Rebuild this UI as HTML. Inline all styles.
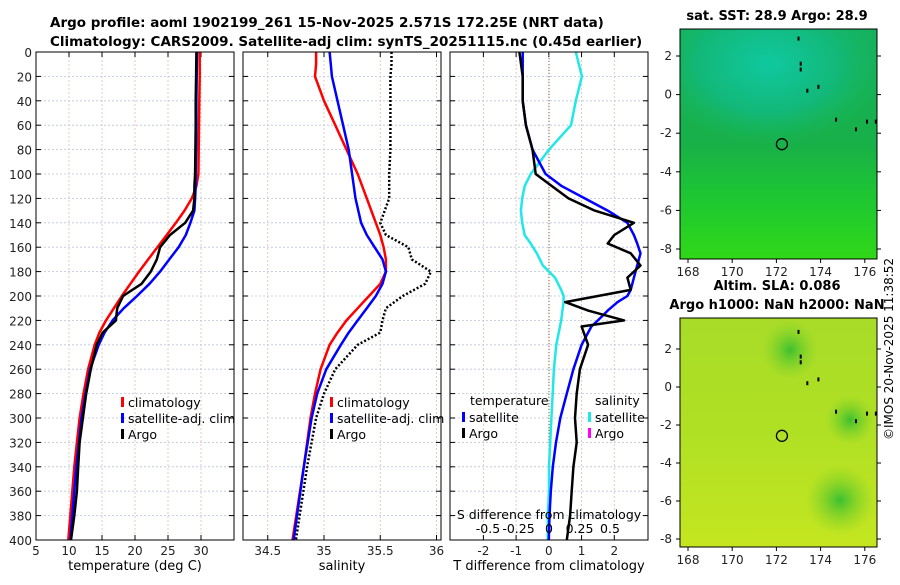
<!DOCTYPE html>
<html><head><meta charset="utf-8"><style>
body{margin:0;background:#fff;width:900px;height:580px;overflow:hidden;font-family:"Liberation Sans","DejaVu Sans",sans-serif}
</style></head><body>
<svg id="c" width="900" height="580" xmlns="http://www.w3.org/2000/svg" font-family="DejaVu Sans, Liberation Sans, sans-serif">
<defs>
<radialGradient id="m1a" cx="0.45" cy="0.25" r="0.6"><stop offset="0" stop-color="#10c8a0"/><stop offset="0.6" stop-color="#12b878"/><stop offset="1" stop-color="#18b858" stop-opacity="0"/></radialGradient>
<linearGradient id="m1b" x1="0" y1="0" x2="0" y2="1"><stop offset="0" stop-color="#14b060"/><stop offset="0.5" stop-color="#18b048"/><stop offset="0.75" stop-color="#1ec830"/><stop offset="1" stop-color="#30d818"/></linearGradient>
<linearGradient id="m2b" x1="0" y1="0" x2="0" y2="1"><stop offset="0" stop-color="#a8dc28"/><stop offset="0.5" stop-color="#b0e024"/><stop offset="1" stop-color="#c4e620"/></linearGradient>
<radialGradient id="m2g" cx="0.5" cy="0.5" r="0.5"><stop offset="0" stop-color="#3cc030"/><stop offset="1" stop-color="#80d028" stop-opacity="0"/></radialGradient>
</defs>
<text x="50" y="27" font-size="13.5" font-weight="bold">Argo profile: aoml 1902199_261 15-Nov-2025 2.571S 172.25E (NRT data)</text>
<text x="50" y="46" font-size="13.5" font-weight="bold">Climatology: CARS2009. Satellite-adj clim: synTS_20251115.nc (0.45d earlier)</text>
<g id="plots"></g>
<g id="maps"></g>
<text transform="translate(893,440) rotate(-90)" font-size="12">©IMOS 20-Nov-2025 11:38:52</text>
</svg>
<script>
const NS='http://www.w3.org/2000/svg';
function mk(tag,attrs,parent,txt){const e=document.createElementNS(NS,tag);for(const k in attrs)e.setAttribute(k,attrs[k]);if(txt!=null)e.textContent=txt;parent.appendChild(e);return e;}
const depthTicks=[0,20,40,60,80,100,120,140,160,180,200,220,240,260,280,300,320,340,360,380,400];
const tDepth=[0,20,40,60,80,100,110,120,130,140,150,160,170,180,190,200,210,220,230,240,260,280,300,320,340,360,380,400];
const tClim=[29.8,29.8,29.75,29.7,29.65,29.6,29.3,28.6,27.5,26.2,24.8,23.4,22,20.6,19.3,18,16.8,15.6,14.6,13.9,12.9,12.2,11.6,11.2,10.8,10.5,10.2,9.9];
const tSat=[29.4,29.35,29.3,29.3,29.25,29.2,29.2,29.1,29,28.4,27.7,26.6,25.2,23.8,22.2,20.3,18.3,16.6,15.4,14.5,13.2,12.5,11.9,11.5,11.1,10.8,10.5,10.2];
const tArgo=[29.3,29.25,29.2,29.2,29.15,29.1,29.0,29.0,28.8,27.6,25.3,23.8,23.3,22.4,21,18.2,17.3,17.1,15.1,14.2,13.3,12.6,12.1,11.6,11.4,11.2,10.8,10.3];
const tTicks=[5,10,15,20,25,30];
const sDepth=[0,10,20,40,60,80,100,120,140,150,160,170,180,190,200,210,220,230,240,260,280,300,340,400];
const sClim=[34.93,34.93,34.92,35.0,35.1,35.2,35.3,35.38,35.46,35.5,35.53,35.55,35.55,35.5,35.4,35.3,35.2,35.12,35.05,34.97,34.92,34.88,34.82,34.72];
const sSat=[35.05,35.06,35.07,35.12,35.17,35.22,35.25,35.28,35.33,35.38,35.45,35.52,35.55,35.52,35.46,35.38,35.3,35.22,35.15,35.02,34.94,34.89,34.82,34.73];
const sArgo=[35.6,35.6,35.59,35.59,35.59,35.59,35.58,35.58,35.5,35.55,35.75,35.78,35.95,35.9,35.7,35.55,35.52,35.5,35.3,35.1,35.0,34.93,34.85,34.75];
const sTicks=[34.5,35,35.5,36];
const dDepth=[0,20,40,60,80,100,110,120,130,140,150,157,165,175,185,195,200,205,212,220,225,240,260,280,300,320,340,360,380,400];
const dTSat=[-0.8,-0.8,-0.8,-0.7,-0.5,-0.1,0.4,1.1,1.8,2.4,2.6,2.7,2.8,2.7,2.6,2.5,2.4,2.1,1.8,1.5,1.3,1.0,0.75,0.55,0.35,0.22,0.12,0.06,0.02,0.0];
const dTArgo=[-0.9,-0.8,-0.8,-0.7,-0.5,-0.4,0.1,0.6,1.4,2.6,2.0,1.8,2.5,2.8,2.4,2.5,1.5,0.5,1.2,2.3,1.0,1.2,0.95,0.85,0.8,0.85,0.75,0.7,0.65,0.55];
const dSSat=[0.22,0.27,0.22,0.18,0.0,-0.15,-0.2,-0.22,-0.23,-0.22,-0.2,-0.15,-0.1,-0.05,0.05,0.1,0.12,0.12,0.11,0.1,0.09,0.06,0.04,0.03,0.02,0.01,0.0,0.0,-0.01,-0.01];
const dTTicks=[-2,-1,0,1,2];
const dSTicks=[-0.5,-0.25,0,0.25,0.5];
const dSTickLabels=['-0.5','-0.25','0','0.25','0.5'];

const yTop=52,yBot=540;
const yD=d=>yTop+(d/400)*(yBot-yTop);
const g=document.getElementById('plots');

function panel(x0,x1,xmin,xmax,name){
  const xs=v=>x0+(v-xmin)/(xmax-xmin)*(x1-x0);
  const pg=mk('g',{},g);
  
  
  return {xs,pg,x0,x1};
}
function frame(p,xt,labelY,xlabels){
  depthTicks.forEach(d=>{const y=yD(d);if(d>0&&d<400){const l=mk('line',{x1:p.x0,x2:p.x1,y1:y,y2:y,stroke:'#b8c4e0','stroke-width':0.8,'stroke-dasharray':'2,2'},p.pg);}
    mk('line',{x1:p.x0,x2:p.x0+5,y1:y,y2:y,stroke:'#000'},p.pg);mk('line',{x1:p.x1-5,x2:p.x1,y1:y,y2:y,stroke:'#000'},p.pg);
    if(labelY){const t=mk('text',{x:p.x0-4,y:y+5,'font-size':12,'text-anchor':'end',fill:'#222'},p.pg,String(d));}});
  xt.forEach((v,i)=>{const x=p.xs(v);const l=mk('line',{x1:x,x2:x,y1:yTop,y2:yBot,stroke:'#d8c0b0','stroke-width':0.8,'stroke-dasharray':'2,2'},p.pg);
    mk('line',{x1:x,x2:x,y1:yBot-5,y2:yBot,stroke:'#000'},p.pg);mk('line',{x1:x,x2:x,y1:yTop,y2:yTop+5,stroke:'#000'},p.pg);
    if(xlabels){const t=mk('text',{x:x,y:yBot+15,'font-size':12,'text-anchor':'middle',fill:'#222'},p.pg,xlabels[i]);}});
}
function border(p){const r=mk('rect',{x:p.x0,y:yTop,width:p.x1-p.x0,height:yBot-yTop,fill:'none',stroke:'#000','stroke-width':1},p.pg);}
function line(p,xsF,vals,depths,color,w,dash,name){
  const pts=vals.map((v,i)=>xsF(v).toFixed(1)+','+yD(depths[i]).toFixed(1)).join(' ');
  const a={points:pts,fill:'none',stroke:color,'stroke-width':w,'stroke-linejoin':'round'};if(dash)a['stroke-dasharray']=dash;
  const e=mk('polyline',a,p.pg);
}
function legend(p,x,y,items){items.forEach((it,i)=>{const yy=y+i*16;mk('rect',{x:x,y:yy-9,width:3,height:10,fill:it[1]},p.pg);const t=mk('text',{x:x+7,y:yy+1,'font-size':12.5,fill:'#000'},p.pg,it[0]);});}

const p1=panel(36,234,5,35,'temperature-panel');
frame(p1,tTicks,true,tTicks.map(String));
line(p1,p1.xs,tClim,tDepth,'#ff0000',2.5,null,'temperature-climatology-line');
line(p1,p1.xs,tSat,tDepth,'#0000ff',2.5,null,'temperature-satellite-line');
line(p1,p1.xs,tArgo,tDepth,'#000',2.5,null,'temperature-argo-line');
border(p1);
legend(p1,121,406,[['climatology','#ff0000'],['satellite-adj. clim','#0000ff'],['Argo','#000']]);
mk('text',{x:135,y:570,'font-size':13,'text-anchor':'middle'},p1.pg,'temperature (deg C)');

const p2=panel(243,441,34.28,36.04,'salinity-panel');
frame(p2,sTicks,false,sTicks.map(String));
line(p2,p2.xs,sClim,sDepth,'#ff0000',2.5,null,'salinity-climatology-line');
line(p2,p2.xs,sSat,sDepth,'#0000ff',2.5,null,'salinity-satellite-line');
line(p2,p2.xs,sArgo,sDepth,'#000',2.5,'2,2','salinity-argo-line');
border(p2);
legend(p2,330,406,[['climatology','#ff0000'],['satellite-adj. clim','#0000ff'],['Argo','#000']]);
mk('text',{x:342,y:570,'font-size':13,'text-anchor':'middle'},p2.pg,'salinity');

const p3=panel(450,648,-3.02,3.03,'difference-panel');
const xsS=v=>549+v*122;
frame(p3,dTTicks,false,dTTicks.map(String));
mk('line',{x1:549,x2:549,y1:yTop,y2:yBot,stroke:'#806040','stroke-width':1,'stroke-dasharray':'1,2'},p3.pg);
line(p3,xsS,dSSat,dDepth,'#20e8e8',2.5,null,'salinity-difference-satellite-line');
line(p3,p3.xs,dTSat,dDepth,'#0000ff',2.5,null,'temperature-difference-satellite-line');
line(p3,p3.xs,dTArgo,dDepth,'#000',2.5,null,'temperature-difference-argo-line');
border(p3);
mk('text',{x:470,y:405,'font-size':12.5},p3.pg,'temperature');
legend(p3,462,421,[['satellite','#0000ff'],['Argo','#000']]);
mk('text',{x:595,y:405,'font-size':12.5},p3.pg,'salinity');
legend(p3,588,421,[['satellite','#20e8e8'],['Argo','#ff00ff']]);
mk('text',{x:549,y:519,'font-size':12.5,'text-anchor':'middle'},p3.pg,'S difference from climatology');
dSTicks.forEach((v,i)=>{const t=mk('text',{x:xsS(v),y:533,'font-size':12.5,'text-anchor':'middle'},p3.pg,dSTickLabels[i]);});
mk('text',{x:549,y:570,'font-size':13,'text-anchor':'middle'},p3.pg,'T difference from climatology');

const mg=document.getElementById('maps');
const lonT=[168,170,172,174,176],latT=[-8,-6,-4,-2,0,2];
function drawMap(y0,y1,lat2y,latm8y,title,fill,name){
  const x0=680,x1=877;
  const gg=mk('g',{},mg);
  const lx=v=>688+(v-168)*22.1;
  const ly=v=>lat2y+(2-v)*(latm8y-lat2y)/10;
  fill(gg,x0,y0,x1-x0,y1-y0);
  mk('rect',{x:x0,y:y0,width:x1-x0,height:y1-y0,fill:'none',stroke:'#000'},gg);
  lonT.forEach(v=>{mk('line',{x1:lx(v),x2:lx(v),y1:y1,y2:y1+4,stroke:'#000'},gg);const t=mk('text',{x:lx(v),y:y1+17,'font-size':12,'text-anchor':'middle',fill:'#222'},gg,String(v));});
  latT.forEach(v=>{mk('line',{x1:x0-4,x2:x0,y1:ly(v),y2:ly(v),stroke:'#000'},gg);mk('line',{x1:x1,x2:x1+4,y1:ly(v),y2:ly(v),stroke:'#000'},gg);const t=mk('text',{x:x0-8,y:ly(v)+4,'font-size':12,'text-anchor':'end',fill:'#222'},gg,String(v));});
  mk('circle',{cx:lx(172.25),cy:ly(-2.57),r:5.5,fill:'none',stroke:'#000','stroke-width':1.3},gg);
  [[173,2.9],[173.1,1.6],[173.1,1.3],[173.9,0.4],[174.7,-1.3],[175.6,-1.8],[176.1,-1.4],[176.5,-1.4],[173.4,0.2]].forEach(p=>{mk('rect',{x:lx(p[0])-1,y:ly(p[1])-2,width:2,height:4,fill:'#000'},gg);});
  let t=mk('text',{x:777,y:y0-9,'font-size':13,'font-weight':'bold','text-anchor':'middle'},gg,title);
}
drawMap(29,259,56,249,'sat. SST: 28.9 Argo: 28.9',(gg,x,y,w,h)=>{
  mk('rect',{x,y,width:w,height:h,fill:'url(#m1b)'},gg);
  mk('rect',{x,y,width:w,height:h*0.6,fill:'url(#m1a)'},gg);
},'sst-map');
drawMap(318,547,349,539,'Argo h1000: NaN h2000: NaN',(gg,x,y,w,h)=>{
  mk('rect',{x,y,width:w,height:h,fill:'url(#m2b)'},gg);
  mk('ellipse',{cx:790,cy:350,rx:28,ry:30,fill:'url(#m2g)'},gg);
  mk('ellipse',{cx:840,cy:500,rx:35,ry:35,fill:'url(#m2g)'},gg);
  mk('ellipse',{cx:850,cy:420,rx:25,ry:25,fill:'url(#m2g)'},gg);
},'sla-map');
const st=mk('text',{x:777,y:290,'font-size':13,'font-weight':'bold','text-anchor':'middle'},mg,'Altim. SLA: 0.086');


</script>
</body></html>
